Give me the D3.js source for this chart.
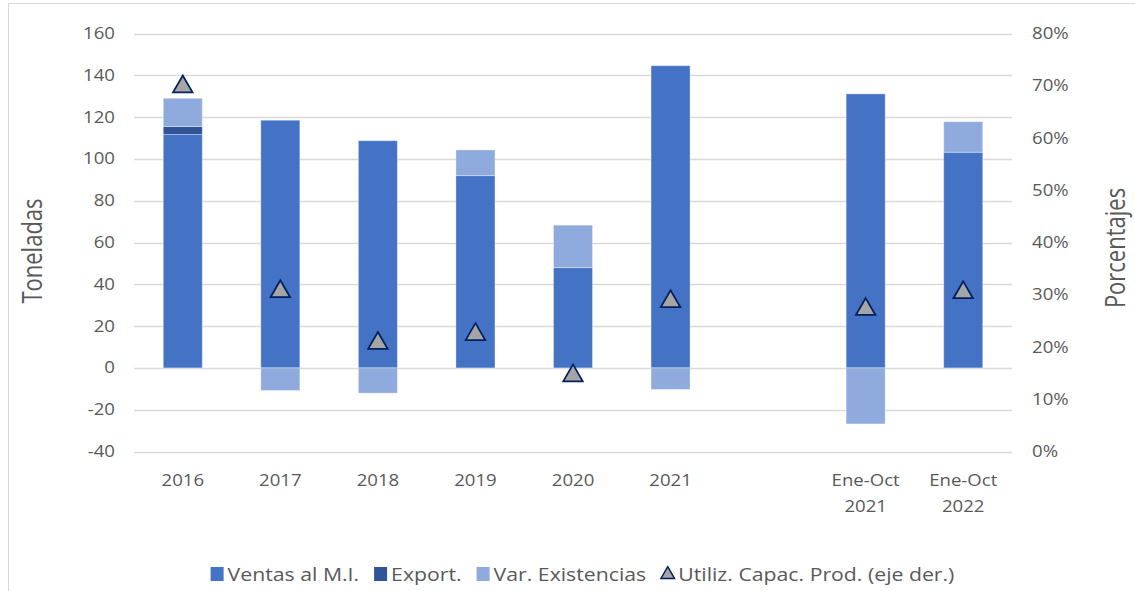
<!DOCTYPE html>
<html>
<head>
<meta charset="utf-8">
<script src="https://cdn.jsdelivr.net/npm/d3@7"></script>
<style>
  body { margin: 0; background: #fff; }
  text { font-family: "Open Sans", sans-serif; fill: #595959; }
</style>
</head>
<body>
<svg id="svg" width="1135" height="591"></svg>
<script>
// categories (blank slot separates the yearly and Ene-Oct groups)
var categories = ["2016", "2017", "2018", "2019", "2020", "2021", "", "Ene-Oct 2021", "Ene-Oct 2022"];
var ventas = [111.7, 118.5, 108.7, 92.0, 48.0, 144.6, 0, 131.1, 103.2];
var exportacion = [3.8, 0, 0, 0, 0, 0, 0, 0, 0];
var varExist = [13.5, -10.8, -12.1, 12.3, 20.3, -10.3, 0, -26.8, 14.6];
var utiliz = [0.70, 0.308, 0.209, 0.226, 0.147, 0.289, null, 0.274, 0.306];
var leftTicks = [-40, -20, 0, 20, 40, 60, 80, 100, 120, 140, 160];
var rightTicks = [0, 0.1, 0.2, 0.3, 0.4, 0.5, 0.6, 0.7, 0.8];

var seriesNames = ["Ventas al M.I.", "Export.", "Var. Existencias"];
var colors = ["#4472C4", "#2F5597", "#8FAADC"];

var svg = d3.select("#svg");
var sx = 1.2; // the picture's text is a bit wide, stretch it

function label(parent, x, y, str, size, anchor, rot) {
    return parent.append("text")
        .attr("transform", "translate(" + x + "," + y + ") scale(" + sx + ",1)" + (rot ? " rotate(" + rot + ")" : ""))
        .attr("text-anchor", anchor || "start")
        .style("font-size", size + "px")
        .text(str);
}

// chart border
svg.append("rect")
    .attr("x", 8.5).attr("y", 3.5)
    .attr("width", 1200).attr("height", 700)
    .attr("fill", "none").attr("stroke", "#d9d9d9");

var x = d3.scaleBand()
    .domain(d3.range(categories.length))
    .range([134, 1012])
    .paddingInner(0.6)
    .paddingOuter(0.3);

var y = d3.scaleLinear().domain([-40, 160]).range([451.5, 33.5]);
var y2 = d3.scaleLinear().domain([0, 0.8]).range([451.5, 33.5]);

// gridlines
svg.append("g")
    .selectAll("line")
    .data(leftTicks)
    .enter().append("line")
    .attr("x1", 134).attr("x2", 1012)
    .attr("y1", function (d) { return Math.round(y(d)) + 0.5; })
    .attr("y2", function (d) { return Math.round(y(d)) + 0.5; })
    .attr("stroke", "#d9d9d9")
    .attr("stroke-width", 1.3);

// axis labels
var gl = svg.append("g");
leftTicks.forEach(function (d) { label(gl, 115, y(d) + 5.5, d, 15.5, "end"); });
var gr = svg.append("g");
rightTicks.forEach(function (d) { label(gr, 1032, y2(d) + 5.5, Math.round(d * 100) + "%", 15.5); });

// axis titles
label(svg, 42, 251, "Toneladas", 22, "middle", -90);
label(svg, 1125, 248, "Porcentajes", 22, "middle", -90);

// stacked bars
var table = categories.map(function (c, i) {
    return { i: i, a: ventas[i], b: exportacion[i], c: varExist[i] };
});
var stack = d3.stack().keys(["a", "b", "c"]).offset(d3.stackOffsetDiverging);
var layers = stack(table);

svg.append("g")
    .selectAll("g")
    .data(layers)
    .enter().append("g")
    .attr("fill", function (d, k) { return colors[k]; })
    .selectAll("rect")
    .data(function (d) { return d.filter(function (p) { return p[1] - p[0] !== 0; }); })
    .enter().append("rect")
    .attr("x", function (d) { return x(d.data.i); })
    .attr("width", x.bandwidth())
    .attr("y", function (d) { return y(Math.max(d[0], d[1])); })
    .attr("height", function (d) { return Math.abs(y(d[0]) - y(d[1])); })
    .attr("stroke", "rgba(255,255,255,0.35)")
    .attr("stroke-width", 1);

// utilization markers
var tri = d3.symbol().type(d3.symbolTriangle).size(165);
svg.append("g")
    .selectAll("path")
    .data(utiliz.map(function (v, i) { return { i: i, v: v }; }).filter(function (d) { return d.v !== null; }))
    .enter().append("path")
    .attr("d", tri)
    .attr("transform", function (d) {
        return "translate(" + (x(d.i) + x.bandwidth() / 2) + "," + (y2(d.v) + 1) + ")";
    })
    .attr("fill", "#A5A5A5")
    .attr("stroke", "#002060")
    .attr("stroke-width", 1.75);

// category labels
var gx = svg.append("g");
categories.forEach(function (d, i) {
    var cx = x(i) + x.bandwidth() / 2;
    d.split(" ").forEach(function (p, k) {
        label(gx, cx, 486 + k * 26, p, 15.5, "middle");
    });
});

// legend
var legendItems = seriesNames.map(function (n, k) { return { name: n, color: colors[k], tri: false }; });
legendItems.push({ name: "Utiliz. Capac. Prod. (eje der.)", color: "#A5A5A5", tri: true });

var legend = svg.append("g");
var lx = 0;
legendItems.forEach(function (it) {
    var g = legend.append("g").attr("transform", "translate(" + lx + ",0)");
    if (it.tri) {
        g.append("path")
            .attr("d", d3.symbol().type(d3.symbolTriangle).size(80))
            .attr("transform", "translate(6.5,-6.5)")
            .attr("fill", it.color)
            .attr("stroke", "#002060")
            .attr("stroke-width", 1.5);
    } else {
        g.append("rect")
            .attr("x", 0).attr("y", -14)
            .attr("width", 13).attr("height", 14)
            .attr("fill", it.color);
    }
    var t = label(g, 17, 0, it.name, 17.7);
    lx += 17 + t.node().getComputedTextLength() * sx + 15;
});
var legendW = lx - 15;
legend.attr("transform", "translate(" + (582.5 - legendW / 2) + ",581)");
</script>
</body>
</html>
